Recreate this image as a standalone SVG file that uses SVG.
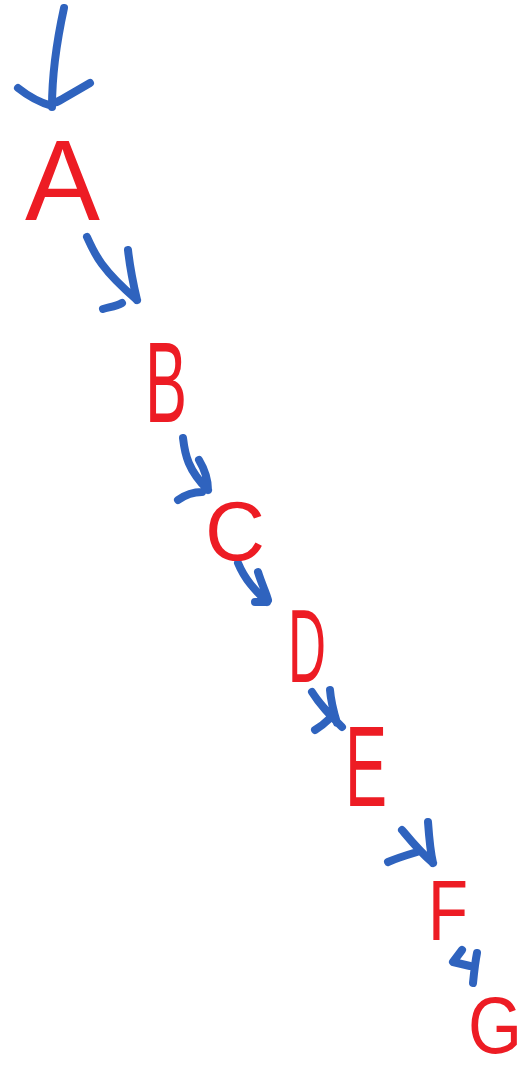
<svg xmlns="http://www.w3.org/2000/svg" width="530" height="1071" viewBox="0 0 530 1071">
<style>
.lbl{font-family:"Liberation Sans",Arial,sans-serif;fill:#ED1C24;}
.c{fill:none;stroke:#2F63BE;stroke-width:8;stroke-linecap:round;stroke-linejoin:round;}
</style>
<rect width="530" height="1071" fill="#FFFFFF"/>
<g id="connectors">
<path class="c" d="M64,8 C57,40 52,70 52,107 M18,88 C28,96 38,102 52,106 M90,83 C78,90 66,97 57,102"/>
<path class="c" d="M87,237 C95,255 102,270 137,300 M128,250 C130,268 133,283 137,300 M103,309 C110,307 117,306 122,303"/>
<path class="c" d="M183,438 C185,455 188,470 208,490 M199,460 C205,470 208,478 208,490 M178,500 C185,495 192,492 202,492"/>
<path class="c" d="M238,563 C245,580 255,590 267,602 M258,572 C262,585 266,592 268,600 M255,602 L267,602"/>
<path class="c" d="M312,692 C320,705 330,715 342,727 M330,690 C331,703 334,713 337,723 M315,730 C320,727 324,724 328,720"/>
<path class="c" d="M402,830 C412,842 420,852 433,863 M428,822 C429,836 430,850 433,863 M388,862 C397,858 407,855 417,852"/>
<path class="c" d="M473,983 C474,973 475,963 477,953 M462,950 L453,962 L470,966"/>
</g>
<g id="A"><text class="lbl" x="25" y="220" font-size="115" textLength="75" lengthAdjust="spacingAndGlyphs">A</text></g>
<g id="B"><text class="lbl" x="145" y="422" font-size="115" textLength="42" lengthAdjust="spacingAndGlyphs">B</text></g>
<g id="C"><text class="lbl" x="205" y="560" font-size="84" textLength="60" lengthAdjust="spacingAndGlyphs">C</text></g>
<g id="D"><text class="lbl" x="288" y="682" font-size="104" textLength="38" lengthAdjust="spacingAndGlyphs">D</text></g>
<g id="E"><text class="lbl" x="345" y="806" font-size="115" textLength="42" lengthAdjust="spacingAndGlyphs">E</text></g>
<g id="F"><text class="lbl" x="428" y="940" font-size="86" textLength="40" lengthAdjust="spacingAndGlyphs">F</text></g>
<g id="G"><text class="lbl" x="468" y="1053" font-size="80" textLength="54" lengthAdjust="spacingAndGlyphs">G</text></g>
</svg>
